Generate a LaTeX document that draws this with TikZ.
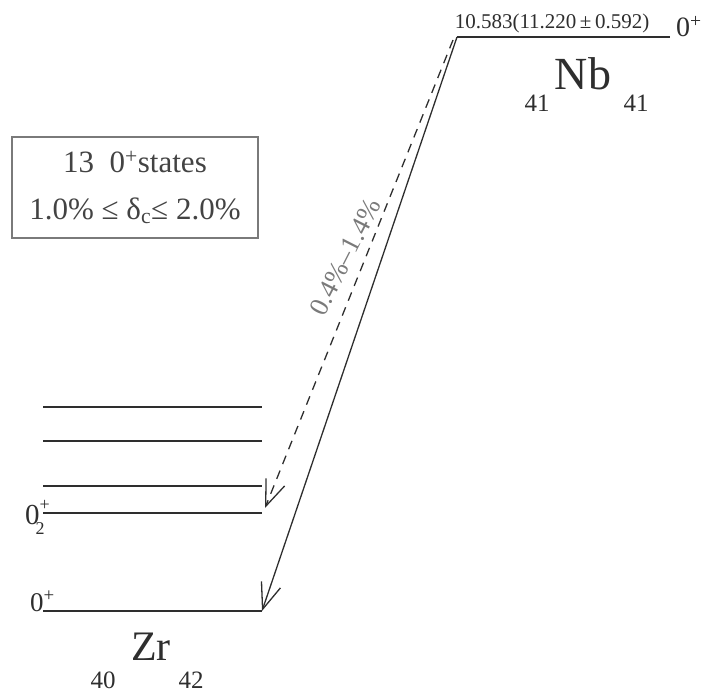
\documentclass[tikz,border=0pt]{standalone}
\usepackage{fontspec}
\setmainfont{Liberation Serif}
\usetikzlibrary{arrows.meta}
\definecolor{ink}{HTML}{2E2E2E}
\definecolor{slate}{HTML}{7A7A7A}

\begin{document}
\begin{tikzpicture}[x=1pt,y=-1pt,
  level/.style={line width=2pt,ink},
  decay/.style={line width=1.3pt,ink,-{Straight Barb[length=26pt,width=20pt,line width=1.3pt]}},
  fsz/.style={font=\fontsize{#1}{#1}\selectfont,text=ink,inner sep=0pt}]
\useasboundingbox (0,0) rectangle (704,695);
% parent: Nb
\coordinate (nbL) at (457,37);\coordinate (nbR) at (670,37);
\draw[level] (nbL)--(nbR);
\node[fsz=21,anchor=base] (nbE) at (552,29) {10.583(11.220\,±\,0.592)};
\node[fsz=28,anchor=base west] (nbSpin) at (676,37) {0\textsuperscript{+}};
\node[fsz=46,anchor=base] (nbName) at (583,90) {Nb};
\node[fsz=25,anchor=base] (nbZ) at (537,112) {41};
\node[fsz=25,anchor=base] (nbN) at (636,112) {41};
% info box
\node[draw=slate,line width=1.2pt,minimum width=246pt,minimum height=101pt,
  align=center,font=\fontsize{31}{47}\selectfont,text=ink!90] (infoBox) at (135,187.5)
  {13\ \ 0\textsuperscript{+}states\\1.0\%\ ≤\ δ\textsubscript{c}≤\ 2.0\%};
% daughter: Zr
\foreach \y/\n in {407/a,441/b,486/c,513/d,611/g}{
  \coordinate (zr\n L) at (43,\y);\coordinate (zr\n R) at (262,\y);
  \draw[level] (zr\n L)--(zr\n R);}
\node[fsz=29,anchor=base west] (zrSpinB) at (25,524)
  {0\rlap{\raisebox{14pt}{\fontsize{18}{18}\selectfont+}}\kern-4pt\raisebox{-10pt}{\fontsize{18}{18}\selectfont 2}};
\node[fsz=27,anchor=base west] (zrSpinA) at (30,611) {0\textsuperscript{+}};
\node[fsz=42,anchor=base] (zrName) at (151,660) {Zr};
\node[fsz=25,anchor=base] (zrZ) at (103,688) {40};
\node[fsz=25,anchor=base] (zrN) at (191,688) {42};
% transitions
\coordinate (dashTop) at (453,40);\coordinate (dashEnd) at (265,508);
\draw[decay] (nbL)--(zrgR);
\draw[decay,dash pattern=on 9pt off 7pt] (dashTop)--(dashEnd);
\node[fsz=27,text=slate,rotate=63] (mix) at (345,257) {0.4\%–1.4\%};
\end{tikzpicture}
\end{document}
